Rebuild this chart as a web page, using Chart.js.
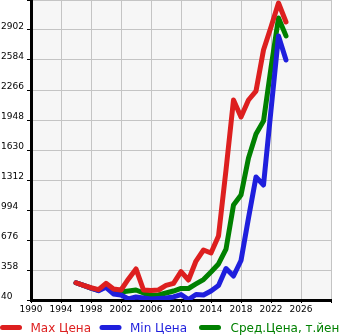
<!DOCTYPE html>
<html>
<head>
<meta charset="utf-8">
<script src="https://cdn.jsdelivr.net/npm/chart.js@4/dist/chart.umd.min.js"></script>
<style>
  html, body { margin: 0; padding: 0; background: #fff; }
  #wrap { width: 345px; height: 335px; position: relative; }
</style>
</head>
<body>
<div id="wrap"><canvas id="priceChart" width="345" height="335"></canvas></div>
<script>
// data
const years = [1996, 1997, 1998, 1999, 2000, 2001, 2002, 2003, 2004, 2005, 2006, 2007, 2008, 2009, 2010,
  2011, 2012, 2013, 2014, 2015, 2016, 2017, 2018, 2019, 2020, 2021, 2022, 2023, 2024];
const maxPrice = [223, 194, 170, 150, 217, 157, 146, 263, 369, 146, 140, 146, 194, 217, 340,
  252, 453, 570, 538, 718, 1418, 2160, 1980, 2160, 2255, 2690, 2934, 3188, 2987];
const minPrice = [223, 194, 165, 138, 175, 104, 93, 51, 72, 61, 51, 56, 61, 72, 98,
  45, 98, 93, 135, 194, 374, 294, 459, 909, 1344, 1259, 2054, 2838, 2584];
const avgPrice = [223, 194, 167, 141, 188, 135, 125, 135, 146, 114, 88, 93, 114, 135, 162,
  162, 210, 257, 337, 422, 580, 1047, 1153, 1545, 1800, 1937, 2500, 3030, 2840];

const seriesNames = ['Max Цена', 'Min Цена', 'Сред.Цена, т.йен'];
const seriesColors = ['#dd1f1f', '#1f1fdd', '#008000'];

Chart.defaults.font.family = 'DejaVu Sans';
Chart.defaults.font.size = 9;
Chart.defaults.color = '#000';

function toPoints(vals) {
  return vals.map((v, i) => ({ x: years[i], y: v }));
}

// plot background
const plotBg = {
  id: 'plotBg',
  beforeDraw(chart) {
    const { ctx, chartArea: a } = chart;
    ctx.save();
    ctx.fillStyle = '#f6f6f6';
    ctx.fillRect(a.left, a.top, a.right - a.left, a.bottom - a.top);
    ctx.restore();
  }
};

// legend along the bottom, clipped at the right like the original
const bottomLegend = {
  id: 'bottomLegend',
  afterDraw(chart) {
    const ctx = chart.ctx;
    const y = 327.5;
    ctx.save();
    ctx.font = '12px "DejaVu Sans"';
    ctx.textBaseline = 'middle';
    chart.data.datasets.forEach((ds, i) => {
      const x = 2.5 + i * 99.5;
      ctx.strokeStyle = ds.borderColor;
      ctx.lineWidth = 5;
      ctx.lineCap = 'round';
      ctx.beginPath();
      ctx.moveTo(x, y);
      ctx.lineTo(x + 17, y);
      ctx.stroke();
      ctx.fillStyle = ds.borderColor;
      ctx.fillText(ds.label, x + 28 + (i === 2 ? 1 : 0), y + 1);
    });
    ctx.restore();
  }
};

const ctx = document.getElementById('priceChart').getContext('2d');
const chart = new Chart(ctx, {
  type: 'line',
  data: {
    datasets: [
      { label: seriesNames[0], data: toPoints(maxPrice), borderColor: seriesColors[0] },
      { label: seriesNames[1], data: toPoints(minPrice), borderColor: seriesColors[1] },
      { label: seriesNames[2], data: toPoints(avgPrice), borderColor: seriesColors[2] },
    ],
  },
  options: {
    responsive: false,
    animation: false,
    layout: { padding: { left: 1, right: 14, top: 0, bottom: 20 } },
    elements: {
      line: { borderWidth: 5, tension: 0, fill: false, borderCapStyle: 'round', borderJoinStyle: 'round' },
      point: { radius: 0 },
    },
    plugins: { legend: { display: false }, tooltip: { enabled: false } },
    scales: {
      x: {
        type: 'linear',
        min: 1990,
        max: 2030,
        afterFit: (s) => { s.height = 15; s.paddingLeft = 0; s.paddingRight = 0; },
        ticks: {
          stepSize: 4,
          maxRotation: 0,
          padding: 1,
          callback: (v) => (v >= 2030 ? '' : String(v)),
        },
        grid: { color: '#c4c4c4', tickColor: '#000', tickLength: 3, lineWidth: 1 },
        border: { color: '#000', width: 3 },
      },
      y: {
        min: 40,
        max: 3220,
        afterFit: (s) => { s.width = 30; s.paddingTop = 0; s.paddingBottom = 0; },
        ticks: {
          stepSize: 318,
          crossAlign: 'far',
          labelOffset: -3,
          callback: (v) => (v >= 3220 ? '' : String(v)),
        },
        grid: { color: '#c4c4c4', tickColor: '#000', tickLength: 4, lineWidth: 1 },
        border: { color: '#000', width: 3 },
      },
    },
  },
  plugins: [plotBg, bottomLegend],
});
</script>
</body>
</html>
